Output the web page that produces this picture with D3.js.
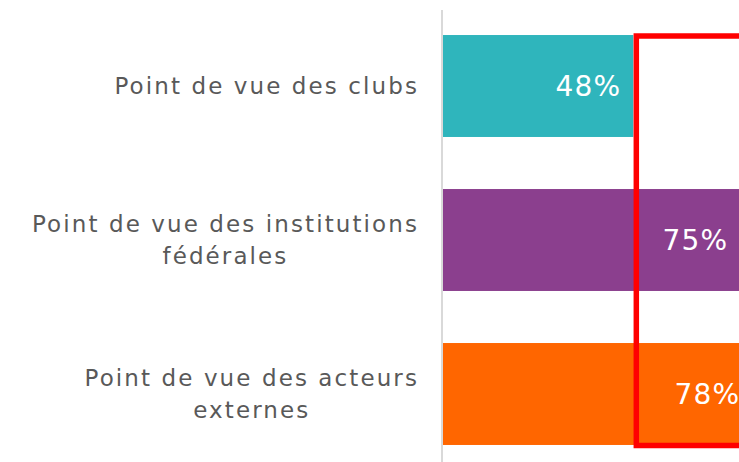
<!DOCTYPE html>
<html>
<head>
<meta charset="utf-8">
<script src="https://cdn.jsdelivr.net/npm/d3@7"></script>
<style>
  body { margin: 0; background: #fff; }
  svg { display: block; }
</style>
</head>
<body>
<script>
// donnees
var categories = ['Point de vue des clubs', 'Point de vue des institutions fédérales', 'Point de vue des acteurs externes'];
var labelLines = [['Point de vue des clubs'], ['Point de vue des institutions', 'fédérales'], ['Point de vue des acteurs', 'externes']];
var values = [48, 75, 78];
var colors = ['#2fb5bc', '#8b3f8e', '#ff6600'];

var w = 739;
var h = 462;
var font = "'DejaVu Sans', sans-serif";

var svg = d3.select('body')
  .append('svg')
  .attr('width', w)
  .attr('height', h);

var x = d3.scaleLinear()
  .domain([0, 100])
  .range([443, 443 + 396.5]);

var y = d3.scaleBand()
  .domain(categories)
  .range([9, 471])
  .paddingInner(0.338)
  .paddingOuter(0.169);

// barres
svg.selectAll('rect.bar')
  .data(values)
  .enter()
  .append('rect')
    .attr('class', 'bar')
    .attr('x', x(0))
    .attr('y', function(d, i) { return y(categories[i]); })
    .attr('width', function(d) { return x(d) - x(0); })
    .attr('height', y.bandwidth())
    .attr('fill', function(d, i) { return colors[i]; });

// axe vertical
svg.append('line')
  .attr('x1', x(0) - 1)
  .attr('x2', x(0) - 1)
  .attr('y1', 10)
  .attr('y2', h)
  .attr('stroke', '#d9d9d9')
  .attr('stroke-width', 2);

// valeurs
svg.selectAll('text.val')
  .data(values)
  .enter()
  .append('text')
    .attr('class', 'val')
    .attr('x', function(d) { return x(d) - 12; })
    .attr('y', function(d, i) { return y(categories[i]) + y.bandwidth() / 2 + 10; })
    .attr('text-anchor', 'end')
    .attr('font-family', font)
    .attr('font-size', 28)
    .attr('letter-spacing', 1.2)
    .attr('fill', '#fff')
    .text(function(d) { return d + '%'; });

// libelles
var right = 419;
categories.forEach(function(c, i) {
  var lines = labelLines[i];
  var g = svg.append('text')
    .attr('font-family', font)
    .attr('font-size', 23)
    .attr('letter-spacing', 2.1)
    .attr('fill', '#595959')
    .attr('text-anchor', 'middle');
  var cy = y(c) + y.bandwidth() / 2;
  var lh = 32;
  var top = cy - (lines.length - 1) * lh / 2 + 8;
  var spans = lines.map(function(l, j) {
    return g.append('tspan').attr('y', top + j * lh).text(l);
  });
  var maxW = d3.max(spans, function(s) { return s.node().getComputedTextLength(); });
  spans.forEach(function(s) { s.attr('x', right - maxW / 2); });
});

// cadre rouge
svg.append('rect')
  .attr('x', x(48) + 3)
  .attr('y', 36)
  .attr('width', 300)
  .attr('height', 409.5)
  .attr('fill', 'none')
  .attr('stroke', '#ff0000')
  .attr('stroke-width', 5.5);
</script>
</body>
</html>
